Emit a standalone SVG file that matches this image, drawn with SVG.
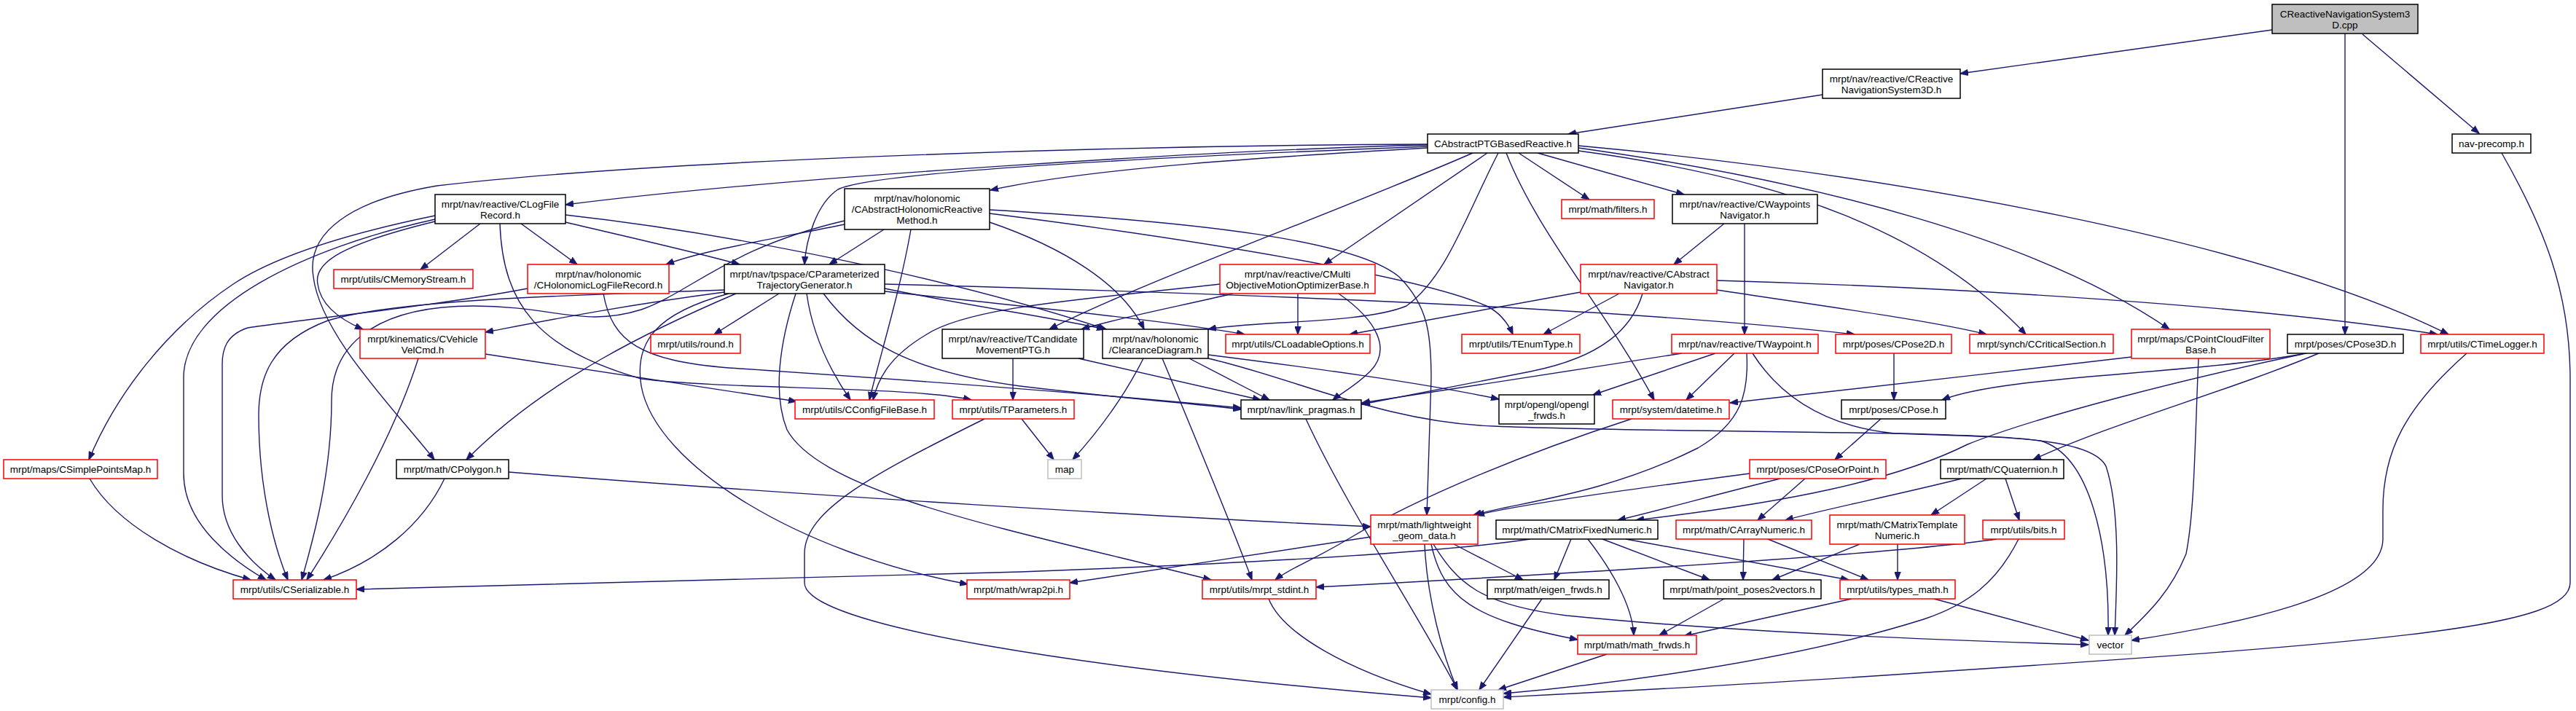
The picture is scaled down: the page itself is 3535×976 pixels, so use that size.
<svg xmlns="http://www.w3.org/2000/svg" width="3535" height="976" viewBox="0 0 3535 976">
<style>
.n rect{fill:#fff;stroke:#000;stroke-width:1.5}
.n.r rect{stroke:#f00}
.n.g rect{stroke:#bfbfbf}
.n.s rect{fill:#bfbfbf}
text{font-family:"Liberation Sans",Arial,sans-serif;font-size:13.5px;text-anchor:middle;fill:#000}
.e path{fill:none;stroke:#191970;stroke-width:1.4;marker-end:url(#a)}
</style>
<defs>
<marker id="a" markerWidth="12" markerHeight="9" refX="11" refY="4.5" orient="auto" markerUnits="userSpaceOnUse"><path d="M0,0 L12,4.5 L0,9 z" fill="#191970" stroke="#191970" stroke-width="0.5"/></marker>
</defs>
<rect width="3535" height="976" fill="#fff"/>
<g id="edges" class="e">
<path d="M3118,41 L2690,101"/>
<path d="M3242,47 L3402,183"/>
<path d="M3218,46 L3218,459"/>
<path d="M2501,130 L2152,184"/>
<path d="M3433,210 C3490,310 3527,400 3527,520 L3527,800 C3527,860 3300,880 2660,922 C2400,940 2200,950 2063,957"/>
<path d="M1959,199 C1700,205 1100,240 776,281"/>
<path d="M1959,203 C1750,215 1500,230 1359,261"/>
<path d="M1959,201 C1600,215 1200,235 1150,260 C1120,280 1106,330 1104,363"/>
<path d="M1959,198 C1500,200 900,220 600,255 C480,275 420,320 430,380 C440,460 540,560 596,631"/>
<path d="M2084,210 L2181,274"/>
<path d="M2110,210 L2311,267"/>
<path d="M2041,210 L1817,363"/>
<path d="M2021,210 C1850,285 1560,390 1440,452"/>
<path d="M2056,210 C2010,300 1985,380 1930,420 C1870,445 1720,440 1658,452"/>
<path d="M2067,210 C2110,320 2200,420 2270,549"/>
<path d="M2166,207 C2450,245 2650,320 2780,459"/>
<path d="M2166,203 C2500,250 2800,330 2977,452"/>
<path d="M2166,200 C2600,240 3100,330 3360,459"/>
<path d="M2169,401 L1852,459"/>
<path d="M2222,403 L2118,459"/>
<path d="M2254,403 C2240,450 2200,490 2100,510 C2000,530 1920,545 1869,555"/>
<path d="M2356,385 C2700,395 3100,420 3345,459"/>
<path d="M2356,398 C2500,420 2650,440 2726,459"/>
<path d="M2366,307 L2297,363"/>
<path d="M2394,307 L2394,459"/>
<path d="M659,307 L577,370"/>
<path d="M715,307 L792,363"/>
<path d="M597,296 C480,320 380,350 320,390 C230,450 160,540 122,631"/>
<path d="M597,301 C420,340 250,420 252,520 L252,650 C252,720 320,770 365,796"/>
<path d="M597,304 C470,335 430,360 436,390 C440,420 470,440 498,452"/>
<path d="M776,295 C1000,320 1300,380 1518,452"/>
<path d="M776,305 C860,325 950,345 1015,363"/>
<path d="M686,307 C690,420 740,480 880,520 C1000,535 1250,530 1333,549"/>
<path d="M828,403 C840,470 880,495 1000,505 C1300,525 1550,545 1703,560"/>
<path d="M724,396 C600,420 400,440 340,450 C310,460 305,480 305,500 L305,680 C305,730 340,770 378,796"/>
<path d="M574,492 C540,600 470,720 421,796"/>
<path d="M666,486 L1093,551"/>
<path d="M123,657 C160,720 250,770 344,796"/>
<path d="M610,657 C580,720 520,770 444,796"/>
<path d="M698,648 C1100,680 1600,710 1881,723"/>
<path d="M994,398 C800,405 550,410 450,440 C370,470 355,520 355,570 C355,680 380,760 395,796"/>
<path d="M1159,303 C1000,340 950,400 880,425 C800,450 760,420 650,420 C520,420 455,470 455,550 C455,650 430,740 414,796"/>
<path d="M1159,308 C1050,330 960,345 914,363"/>
<path d="M1213,315 L1138,363"/>
<path d="M1250,315 C1235,400 1210,480 1193,549"/>
<path d="M1358,305 C1460,340 1540,390 1570,452"/>
<path d="M1358,288 C1650,305 1860,330 1920,380 C1960,420 1964,460 1964,520 L1958,707"/>
<path d="M1358,293 C1650,330 1950,380 2040,420 C2060,430 2070,445 2076,459"/>
<path d="M1069,403 L980,459"/>
<path d="M1107,403 C1115,460 1140,510 1167,549"/>
<path d="M1092,403 C1070,470 1060,540 1080,590 C1130,680 1400,730 1662,796"/>
<path d="M1000,403 C900,430 870,470 880,530 C900,640 1100,760 1328,802"/>
<path d="M1010,403 C900,450 750,520 640,631"/>
<path d="M994,401 C850,420 750,440 666,456"/>
<path d="M1214,396 C1330,420 1440,435 1516,452"/>
<path d="M1214,400 C1400,420 1600,440 1708,459"/>
<path d="M1214,390 C1600,400 2200,420 2545,459"/>
<path d="M1130,403 C1180,470 1250,510 1400,530 C1550,548 1650,555 1703,562"/>
<path d="M1781,403 L1781,459"/>
<path d="M1692,403 C1620,420 1540,435 1484,452"/>
<path d="M1674,390 C1500,410 1330,420 1270,460 C1220,490 1205,520 1198,549"/>
<path d="M1837,403 C1890,440 1910,480 1880,510 C1860,530 1840,540 1829,549"/>
<path d="M1390,492 L1390,549"/>
<path d="M1480,492 L1730,549"/>
<path d="M1632,492 L1742,549"/>
<path d="M1569,492 C1540,550 1500,600 1472,631"/>
<path d="M1595,492 C1640,600 1690,720 1718,796"/>
<path d="M1658,487 C1800,505 1950,525 2057,548"/>
<path d="M1658,492 C1780,520 1900,580 2050,585 C2300,595 2700,590 2800,605 C2870,625 2895,750 2893,872"/>
<path d="M2405,485 C2440,540 2500,585 2600,595 C2750,600 2870,600 2890,640 C2910,700 2905,800 2902,872"/>
<path d="M2308,485 C2150,510 1950,540 1869,553"/>
<path d="M2354,485 L2186,542"/>
<path d="M2380,485 L2314,549"/>
<path d="M2397,485 C2400,540 2390,580 2330,615 C2200,680 2080,690 2022,707"/>
<path d="M2239,575 C2100,620 1950,680 1850,740 C1800,770 1770,780 1750,796"/>
<path d="M2925,490 C2750,510 2500,540 2374,553"/>
<path d="M3017,492 C3012,600 3012,700 3000,760 C2980,810 2950,840 2916,872"/>
<path d="M2599,485 L2599,549"/>
<path d="M3165,485 C3000,515 2750,515 2665,549"/>
<path d="M3182,485 C3050,540 2900,580 2790,631"/>
<path d="M3160,486 C3000,520 2800,570 2700,610 C2600,660 2450,690 2245,714"/>
<path d="M3385,485 C3300,560 3270,620 3270,700 L3270,740 C3270,820 3050,860 2925,879"/>
<path d="M2581,575 L2518,631"/>
<path d="M2401,650 C2250,670 2100,690 2026,707"/>
<path d="M2443,657 C2350,680 2280,700 2220,714"/>
<path d="M2477,657 L2412,714"/>
<path d="M2692,657 C2600,680 2500,700 2450,714"/>
<path d="M2726,657 L2650,707"/>
<path d="M2752,657 L2771,714"/>
<path d="M1881,737 C1750,757 1600,780 1468,800"/>
<path d="M1995,747 L2090,796"/>
<path d="M1955,747 C1958,820 1980,900 2000,947"/>
<path d="M1964,747 C1980,820 2020,850 2165,878"/>
<path d="M1967,747 C2000,800 2030,830 2150,845 C2400,870 2700,880 2866,885"/>
<path d="M2100,740 C2000,755 1800,770 1400,785 C1000,797 700,805 489,809"/>
<path d="M2156,740 L2133,796"/>
<path d="M2179,740 C2210,780 2240,830 2242,872"/>
<path d="M2199,740 L2346,796"/>
<path d="M2231,740 L2537,796"/>
<path d="M2393,740 L2392,796"/>
<path d="M2426,740 L2564,796"/>
<path d="M2552,747 L2432,796"/>
<path d="M2604,747 L2604,796"/>
<path d="M2740,740 C2600,760 2200,785 1806,806"/>
<path d="M2770,740 C2740,800 2700,830 2640,850 C2450,910 2200,940 2063,952"/>
<path d="M2366,822 L2277,872"/>
<path d="M2541,822 L2311,873"/>
<path d="M2654,822 L2866,879"/>
<path d="M2116,822 L2030,947"/>
<path d="M2205,898 L2056,947"/>
<path d="M1741,822 C1760,870 1850,920 1964,953"/>
<path d="M1792,575 C1850,700 1950,850 2000,947"/>
<path d="M1351,575 C1200,650 1104,700 1104,760 L1104,800 C1104,860 1500,920 1964,958"/>
<path d="M1402,575 L1446,631"/>
</g>
<g id="cpp" class="n s"><rect x="3118" y="6" width="200" height="40"/><text x="3218" y="23.5">CReactiveNavigationSystem3</text><text x="3218" y="38.5">D.cpp</text></g>
<g id="react3d" class="n"><rect x="2501" y="95" width="189" height="40"/><text x="2595.5" y="112.5">mrpt/nav/reactive/CReactive</text><text x="2595.5" y="127.5">NavigationSystem3D.h</text></g>
<g id="captg" class="n"><rect x="1959" y="184" width="207" height="26"/><text x="2062.5" y="202">CAbstractPTGBasedReactive.h</text></g>
<g id="navprecomp" class="n"><rect x="3365" y="184" width="108" height="26"/><text x="3419" y="202">nav-precomp.h</text></g>
<g id="logfile" class="n"><rect x="597" y="267" width="179" height="40"/><text x="686.5" y="284.5">mrpt/nav/reactive/CLogFile</text><text x="686.5" y="299.5">Record.h</text></g>
<g id="absholo" class="n"><rect x="1159" y="259" width="199" height="56"/><text x="1258.5" y="277">mrpt/nav/holonomic</text><text x="1258.5" y="292">/CAbstractHolonomicReactive</text><text x="1258.5" y="307">Method.h</text></g>
<g id="filters" class="n r"><rect x="2143" y="274" width="127" height="26"/><text x="2206.5" y="292">mrpt/math/filters.h</text></g>
<g id="waynav" class="n"><rect x="2295" y="267" width="199" height="40"/><text x="2394.5" y="284.5">mrpt/nav/reactive/CWaypoints</text><text x="2394.5" y="299.5">Navigator.h</text></g>
<g id="memstream" class="n r"><rect x="458" y="370" width="191" height="26"/><text x="553.5" y="388">mrpt/utils/CMemoryStream.h</text></g>
<g id="hololog" class="n r"><rect x="724" y="363" width="194" height="40"/><text x="821" y="380.5">mrpt/nav/holonomic</text><text x="821" y="395.5">/CHolonomicLogFileRecord.h</text></g>
<g id="ptg" class="n"><rect x="994" y="363" width="220" height="40"/><text x="1104" y="380.5">mrpt/nav/tpspace/CParameterized</text><text x="1104" y="395.5">TrajectoryGenerator.h</text></g>
<g id="multi" class="n r"><rect x="1674" y="363" width="213" height="40"/><text x="1780.5" y="380.5">mrpt/nav/reactive/CMulti</text><text x="1780.5" y="395.5">ObjectiveMotionOptimizerBase.h</text></g>
<g id="absnav" class="n r"><rect x="2169" y="363" width="187" height="40"/><text x="2262.5" y="380.5">mrpt/nav/reactive/CAbstract</text><text x="2262.5" y="395.5">Navigator.h</text></g>
<g id="velcmd" class="n r"><rect x="494" y="452" width="172" height="40"/><text x="580" y="469.5">mrpt/kinematics/CVehicle</text><text x="580" y="484.5">VelCmd.h</text></g>
<g id="round" class="n r"><rect x="893" y="459" width="123" height="26"/><text x="954.5" y="477">mrpt/utils/round.h</text></g>
<g id="tcand" class="n"><rect x="1293" y="452" width="194" height="40"/><text x="1390" y="469.5">mrpt/nav/reactive/TCandidate</text><text x="1390" y="484.5">MovementPTG.h</text></g>
<g id="clearance" class="n"><rect x="1513" y="452" width="145" height="40"/><text x="1585.5" y="469.5">mrpt/nav/holonomic</text><text x="1585.5" y="484.5">/ClearanceDiagram.h</text></g>
<g id="loadable" class="n r"><rect x="1682" y="459" width="198" height="26"/><text x="1781" y="477">mrpt/utils/CLoadableOptions.h</text></g>
<g id="enumtype" class="n r"><rect x="2006" y="459" width="162" height="26"/><text x="2087" y="477">mrpt/utils/TEnumType.h</text></g>
<g id="twaypoint" class="n r"><rect x="2294" y="459" width="201" height="26"/><text x="2394.5" y="477">mrpt/nav/reactive/TWaypoint.h</text></g>
<g id="pose2d" class="n r"><rect x="2519" y="459" width="159" height="26"/><text x="2598.5" y="477">mrpt/poses/CPose2D.h</text></g>
<g id="critsec" class="n r"><rect x="2703" y="459" width="197" height="26"/><text x="2801.5" y="477">mrpt/synch/CCriticalSection.h</text></g>
<g id="pcfilter" class="n r"><rect x="2925" y="452" width="190" height="40"/><text x="3020" y="469.5">mrpt/maps/CPointCloudFilter</text><text x="3020" y="484.5">Base.h</text></g>
<g id="pose3d" class="n"><rect x="3139" y="459" width="159" height="26"/><text x="3218.5" y="477">mrpt/poses/CPose3D.h</text></g>
<g id="timelogger" class="n r"><rect x="3322" y="459" width="169" height="26"/><text x="3406.5" y="477">mrpt/utils/CTimeLogger.h</text></g>
<g id="configfile" class="n r"><rect x="1091" y="549" width="191" height="26"/><text x="1186.5" y="567">mrpt/utils/CConfigFileBase.h</text></g>
<g id="tparams" class="n r"><rect x="1307" y="549" width="167" height="26"/><text x="1390.5" y="567">mrpt/utils/TParameters.h</text></g>
<g id="linkpragmas" class="n"><rect x="1703" y="549" width="165" height="26"/><text x="1785.5" y="567">mrpt/nav/link_pragmas.h</text></g>
<g id="openglfrwds" class="n"><rect x="2057" y="542" width="131" height="40"/><text x="2122.5" y="559.5">mrpt/opengl/opengl</text><text x="2122.5" y="574.5">_frwds.h</text></g>
<g id="datetime" class="n r"><rect x="2213" y="549" width="160" height="26"/><text x="2293" y="567">mrpt/system/datetime.h</text></g>
<g id="cpose" class="n"><rect x="2527" y="549" width="143" height="26"/><text x="2598.5" y="567">mrpt/poses/CPose.h</text></g>
<g id="simplepoints" class="n r"><rect x="5" y="631" width="211" height="26"/><text x="110.5" y="649">mrpt/maps/CSimplePointsMap.h</text></g>
<g id="polygon" class="n"><rect x="544" y="631" width="154" height="26"/><text x="621" y="649">mrpt/math/CPolygon.h</text></g>
<g id="map" class="n g"><rect x="1438" y="631" width="46" height="26"/><text x="1461" y="649">map</text></g>
<g id="poseorpoint" class="n r"><rect x="2401" y="631" width="187" height="26"/><text x="2494.5" y="649">mrpt/poses/CPoseOrPoint.h</text></g>
<g id="quaternion" class="n"><rect x="2663" y="631" width="169" height="26"/><text x="2747.5" y="649">mrpt/math/CQuaternion.h</text></g>
<g id="lwgeom" class="n r"><rect x="1881" y="707" width="147" height="40"/><text x="1954.5" y="724.5">mrpt/math/lightweight</text><text x="1954.5" y="739.5">_geom_data.h</text></g>
<g id="matfixed" class="n"><rect x="2053" y="714" width="222" height="26"/><text x="2164" y="732">mrpt/math/CMatrixFixedNumeric.h</text></g>
<g id="arraynum" class="n r"><rect x="2300" y="714" width="186" height="26"/><text x="2393" y="732">mrpt/math/CArrayNumeric.h</text></g>
<g id="mattempl" class="n r"><rect x="2511" y="707" width="185" height="40"/><text x="2603.5" y="724.5">mrpt/math/CMatrixTemplate</text><text x="2603.5" y="739.5">Numeric.h</text></g>
<g id="bits" class="n r"><rect x="2721" y="714" width="112" height="26"/><text x="2777" y="732">mrpt/utils/bits.h</text></g>
<g id="serializable" class="n r"><rect x="320" y="796" width="169" height="26"/><text x="404.5" y="814">mrpt/utils/CSerializable.h</text></g>
<g id="wrap2pi" class="n r"><rect x="1327" y="796" width="141" height="26"/><text x="1397.5" y="814">mrpt/math/wrap2pi.h</text></g>
<g id="stdint" class="n r"><rect x="1650" y="796" width="156" height="26"/><text x="1728" y="814">mrpt/utils/mrpt_stdint.h</text></g>
<g id="eigenfrwds" class="n"><rect x="2041" y="796" width="167" height="26"/><text x="2124.5" y="814">mrpt/math/eigen_frwds.h</text></g>
<g id="pp2v" class="n"><rect x="2283" y="796" width="216" height="26"/><text x="2391" y="814">mrpt/math/point_poses2vectors.h</text></g>
<g id="typesmath" class="n r"><rect x="2525" y="796" width="158" height="26"/><text x="2604" y="814">mrpt/utils/types_math.h</text></g>
<g id="mathfrwds" class="n r"><rect x="2165" y="872" width="163" height="26"/><text x="2246.5" y="890">mrpt/math/math_frwds.h</text></g>
<g id="vector" class="n g"><rect x="2867" y="872" width="58" height="26"/><text x="2896" y="890">vector</text></g>
<g id="config" class="n g"><rect x="1964" y="947" width="99" height="26"/><text x="2013.5" y="965">mrpt/config.h</text></g>
</svg>
